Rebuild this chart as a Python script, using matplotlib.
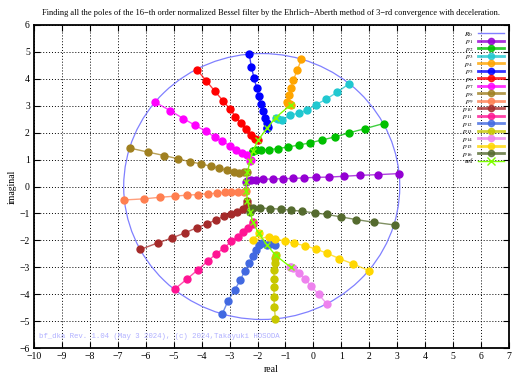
import matplotlib
matplotlib.use("Agg")
import matplotlib.pyplot as plt
from matplotlib.patches import Circle
from matplotlib.lines import Line2D

# initial circle R0 (center, radius)
r0_center = (-1.85, 0.0)
r0_radius = 4.94

# iteration traces of each root
p1_x = [3.07, 2.31, 1.66, 1.10, 0.57, 0.09, -0.33, -0.72, -1.10, -1.46, -1.79, -2.05, -2.25, -2.36, -2.40]
p1_y = [0.48, 0.44, 0.415, 0.38, 0.35, 0.34, 0.32, 0.30, 0.29, 0.28, 0.27, 0.25, 0.23, 0.19, 0.16]
p2_x = [2.51, 1.85, 1.26, 0.77, 0.31, -0.13, -0.53, -0.90, -1.26, -1.58, -1.88, -2.06, -2.15, -2.17]
p2_y = [2.34, 2.15, 1.99, 1.84, 1.73, 1.62, 1.54, 1.47, 1.41, 1.37, 1.35, 1.34, 1.33, 1.32]
p3_x = [1.28, 0.86, 0.45, 0.09, -0.22, -0.52, -0.83, -1.12, -1.28, -1.35]
p3_y = [3.82, 3.51, 3.24, 3.04, 2.84, 2.73, 2.65, 2.47, 2.52, 2.56]
p4_x = [-0.43, -0.58, -0.72, -0.80, -0.88, -0.94, -0.90, -0.84, -0.82]
p4_y = [4.73, 4.32, 3.95, 3.67, 3.39, 3.14, 3.08, 3.05, 3.03]
p5_x = [-2.30, -2.22, -2.13, -2.03, -1.95, -1.87, -1.79, -1.72, -1.65, -1.61, -1.66, -1.67]
p5_y = [4.92, 4.45, 4.04, 3.66, 3.35, 3.06, 2.80, 2.55, 2.36, 2.22, 2.17, 2.16]
p6_x = [-4.17, -3.83, -3.52, -3.24, -2.99, -2.79, -2.60, -2.42, -2.24, -2.10, -1.97]
p6_y = [4.34, 3.92, 3.53, 3.19, 2.88, 2.60, 2.36, 2.14, 1.91, 1.75, 1.73]
p7_x = [-5.66, -5.13, -4.65, -4.23, -3.86, -3.54, -3.26, -3.00, -2.78, -2.56, -2.38, -2.24, -2.27]
p7_y = [3.13, 2.82, 2.52, 2.27, 2.06, 1.84, 1.68, 1.52, 1.37, 1.26, 1.16, 1.00, 0.93]
p8_x = [-6.58, -5.93, -5.34, -4.85, -4.42, -4.02, -3.67, -3.37, -3.09, -2.86, -2.68, -2.48, -2.36]
p8_y = [1.43, 1.28, 1.15, 1.03, 0.92, 0.84, 0.75, 0.68, 0.60, 0.54, 0.50, 0.54, 0.54]
p9_x = [-6.77, -6.08, -5.48, -4.97, -4.53, -4.13, -3.77, -3.45, -3.18, -2.94, -2.71, -2.50, -2.40]
p9_y = [-0.50, -0.46, -0.40, -0.36, -0.32, -0.30, -0.27, -0.25, -0.22, -0.21, -0.20, -0.19, -0.16]
p10_x = [-6.20, -5.58, -5.06, -4.59, -4.17, -3.81, -3.49, -3.21, -2.95, -2.73, -2.53, -2.38, -2.36]
p10_y = [-2.34, -2.10, -1.91, -1.72, -1.53, -1.39, -1.24, -1.11, -1.01, -0.93, -0.83, -0.64, -0.54]
p11_x = [-4.97, -4.53, -4.13, -3.79, -3.48, -3.19, -2.94, -2.71, -2.52, -2.34, -2.17, -2.17]
p11_y = [-3.82, -3.44, -3.09, -2.78, -2.50, -2.28, -2.04, -1.86, -1.70, -1.55, -1.41, -1.32]
p12_x = [-3.27, -3.06, -2.82, -2.62, -2.46, -2.29, -2.16, -2.05, -1.96, -1.84, -1.57, -1.37, -1.67]
p12_y = [-4.75, -4.26, -3.84, -3.49, -3.14, -2.85, -2.60, -2.35, -2.18, -2.09, -2.15, -2.17, -2.16]
p13_x = [-1.36, -1.40, -1.41, -1.41, -1.41, -1.41, -1.39, -1.37, -1.35]
p13_y = [-4.91, -4.47, -4.10, -3.73, -3.42, -3.11, -2.86, -2.65, -2.56]
p14_x = [0.49, 0.19, -0.08, -0.31, -0.53, -0.73, -0.83, -0.81]
p14_y = [-4.37, -4.01, -3.70, -3.43, -3.20, -3.04, -3.00, -3.00]
p15_x = [1.99, 1.43, 0.93, 0.49, 0.08, -0.31, -0.68, -1.03, -1.37, -1.60, -2.17, -1.96]
p15_y = [-3.13, -2.88, -2.68, -2.48, -2.32, -2.20, -2.11, -2.02, -1.95, -1.86, -2.00, -1.74]
p16_x = [2.91, 2.17, 1.54, 0.99, 0.49, 0.04, -0.40, -0.80, -1.17, -1.54, -1.90, -2.16, -2.27]
p16_y = [-1.43, -1.33, -1.23, -1.13, -1.04, -0.98, -0.92, -0.88, -0.84, -0.82, -0.80, -0.81, -0.93]

# reference poles
ref_x = [-0.82, -1.35, -1.67, -1.97, -2.17, -2.27, -2.36, -2.40, -2.40, -2.36, -2.27, -2.17, -1.96, -1.67, -1.35, -0.81]
ref_y = [3.03, 2.56, 2.16, 1.73, 1.32, 0.93, 0.54, 0.16, -0.16, -0.54, -0.93, -1.32, -1.74, -2.16, -2.56, -3.00]

traces = [(p1_x, p1_y), (p2_x, p2_y), (p3_x, p3_y), (p4_x, p4_y), (p5_x, p5_y), (p6_x, p6_y),
          (p7_x, p7_y), (p8_x, p8_y), (p9_x, p9_y), (p10_x, p10_y), (p11_x, p11_y), (p12_x, p12_y),
          (p13_x, p13_y), (p14_x, p14_y), (p15_x, p15_y), (p16_x, p16_y)]
colors = ['#9400d3', '#00c000', '#20c8d0', '#ffa500', '#0000ff', '#ff0000', '#ff00ff', '#a08020',
          '#ff7f50', '#a52a2a', '#ff1493', '#4169e1', '#c8c800', '#ee82ee', '#ffd700', '#556b2f']

plt.rcParams['font.family'] = ['Liberation Serif', 'DejaVu Serif']
plt.rcParams['mathtext.fontset'] = 'stix'

fig = plt.figure(figsize=(5.2, 3.8), dpi=100)
ax = fig.add_axes([34/520, 1 - 348/380, 475/520, 323/380])

handles = []
circ = Circle(r0_center, r0_radius, fill=False, edgecolor='#8080ff', lw=0.9, zorder=2)
ax.add_patch(circ)
handles.append(Line2D([], [], color='#8080ff', lw=1.0, label='$R_0$'))

for i, ((xs, ys), c) in enumerate(zip(traces, colors)):
    ax.plot(xs, ys, color=c, lw=1.0, alpha=0.75, zorder=3)
    ax.plot(xs, ys, ls='none', marker='o', ms=5, color=c, mec=c, zorder=3)
    handles.append(Line2D([], [], color=c, lw=2.0, alpha=0.8, marker='o', ms=4.5, label=f'$p_{{{i+1}}}$'))

ax.plot(ref_x, ref_y, color='#7fff00', lw=1.0, marker='x', ms=5, mew=1.0, zorder=4)
handles.append(Line2D([], [], color='#7fff00', lw=1.0, marker='x', ms=6, mew=1.0, label='ref'))

ax.text(-9.82, -5.58, 'bf_dka Rev. 1.04 (May 3 2024), (c) 2024,Takayuki HOSODA',
        family='Liberation Mono', fontsize=5.3, color='#b0b0ff', va='center')

ax.set_xlim(-10, 7)
ax.set_ylim(-6, 6)
ax.set_xticks(range(-10, 8))
ax.set_yticks(range(-6, 7))
ax.set_xticklabels([str(v).replace('-', '\u2212') for v in range(-10, 8)])
ax.set_yticklabels([str(v).replace('-', '\u2212') for v in range(-6, 7)])
ax.tick_params(direction='in', top=True, right=True, labelsize=7, length=4, width=0.8, pad=3)
ax.grid(True, color='black', ls=(0, (1, 2)), lw=0.7)
for s in ax.spines.values():
    s.set_linewidth(1.3)

ax.set_xlabel('real', fontsize=7, labelpad=3)
ax.set_ylabel('imaginal', fontsize=7, labelpad=2)
ax.set_title('Finding all the poles of the 16\u2212th order normalized Bessel filter by the '
             'Ehrlich\u2212Aberth method of 3\u2212rd convergence with deceleration.',
             fontsize=6.0, pad=7)

ax.legend(handles=handles, loc='upper right', frameon=False, markerfirst=False,
          fontsize=5.4, labelspacing=-0.1, handlelength=3.5, handletextpad=0.6,
          borderaxespad=0.45, borderpad=0.2)

fig.savefig('out.png', dpi=100)
